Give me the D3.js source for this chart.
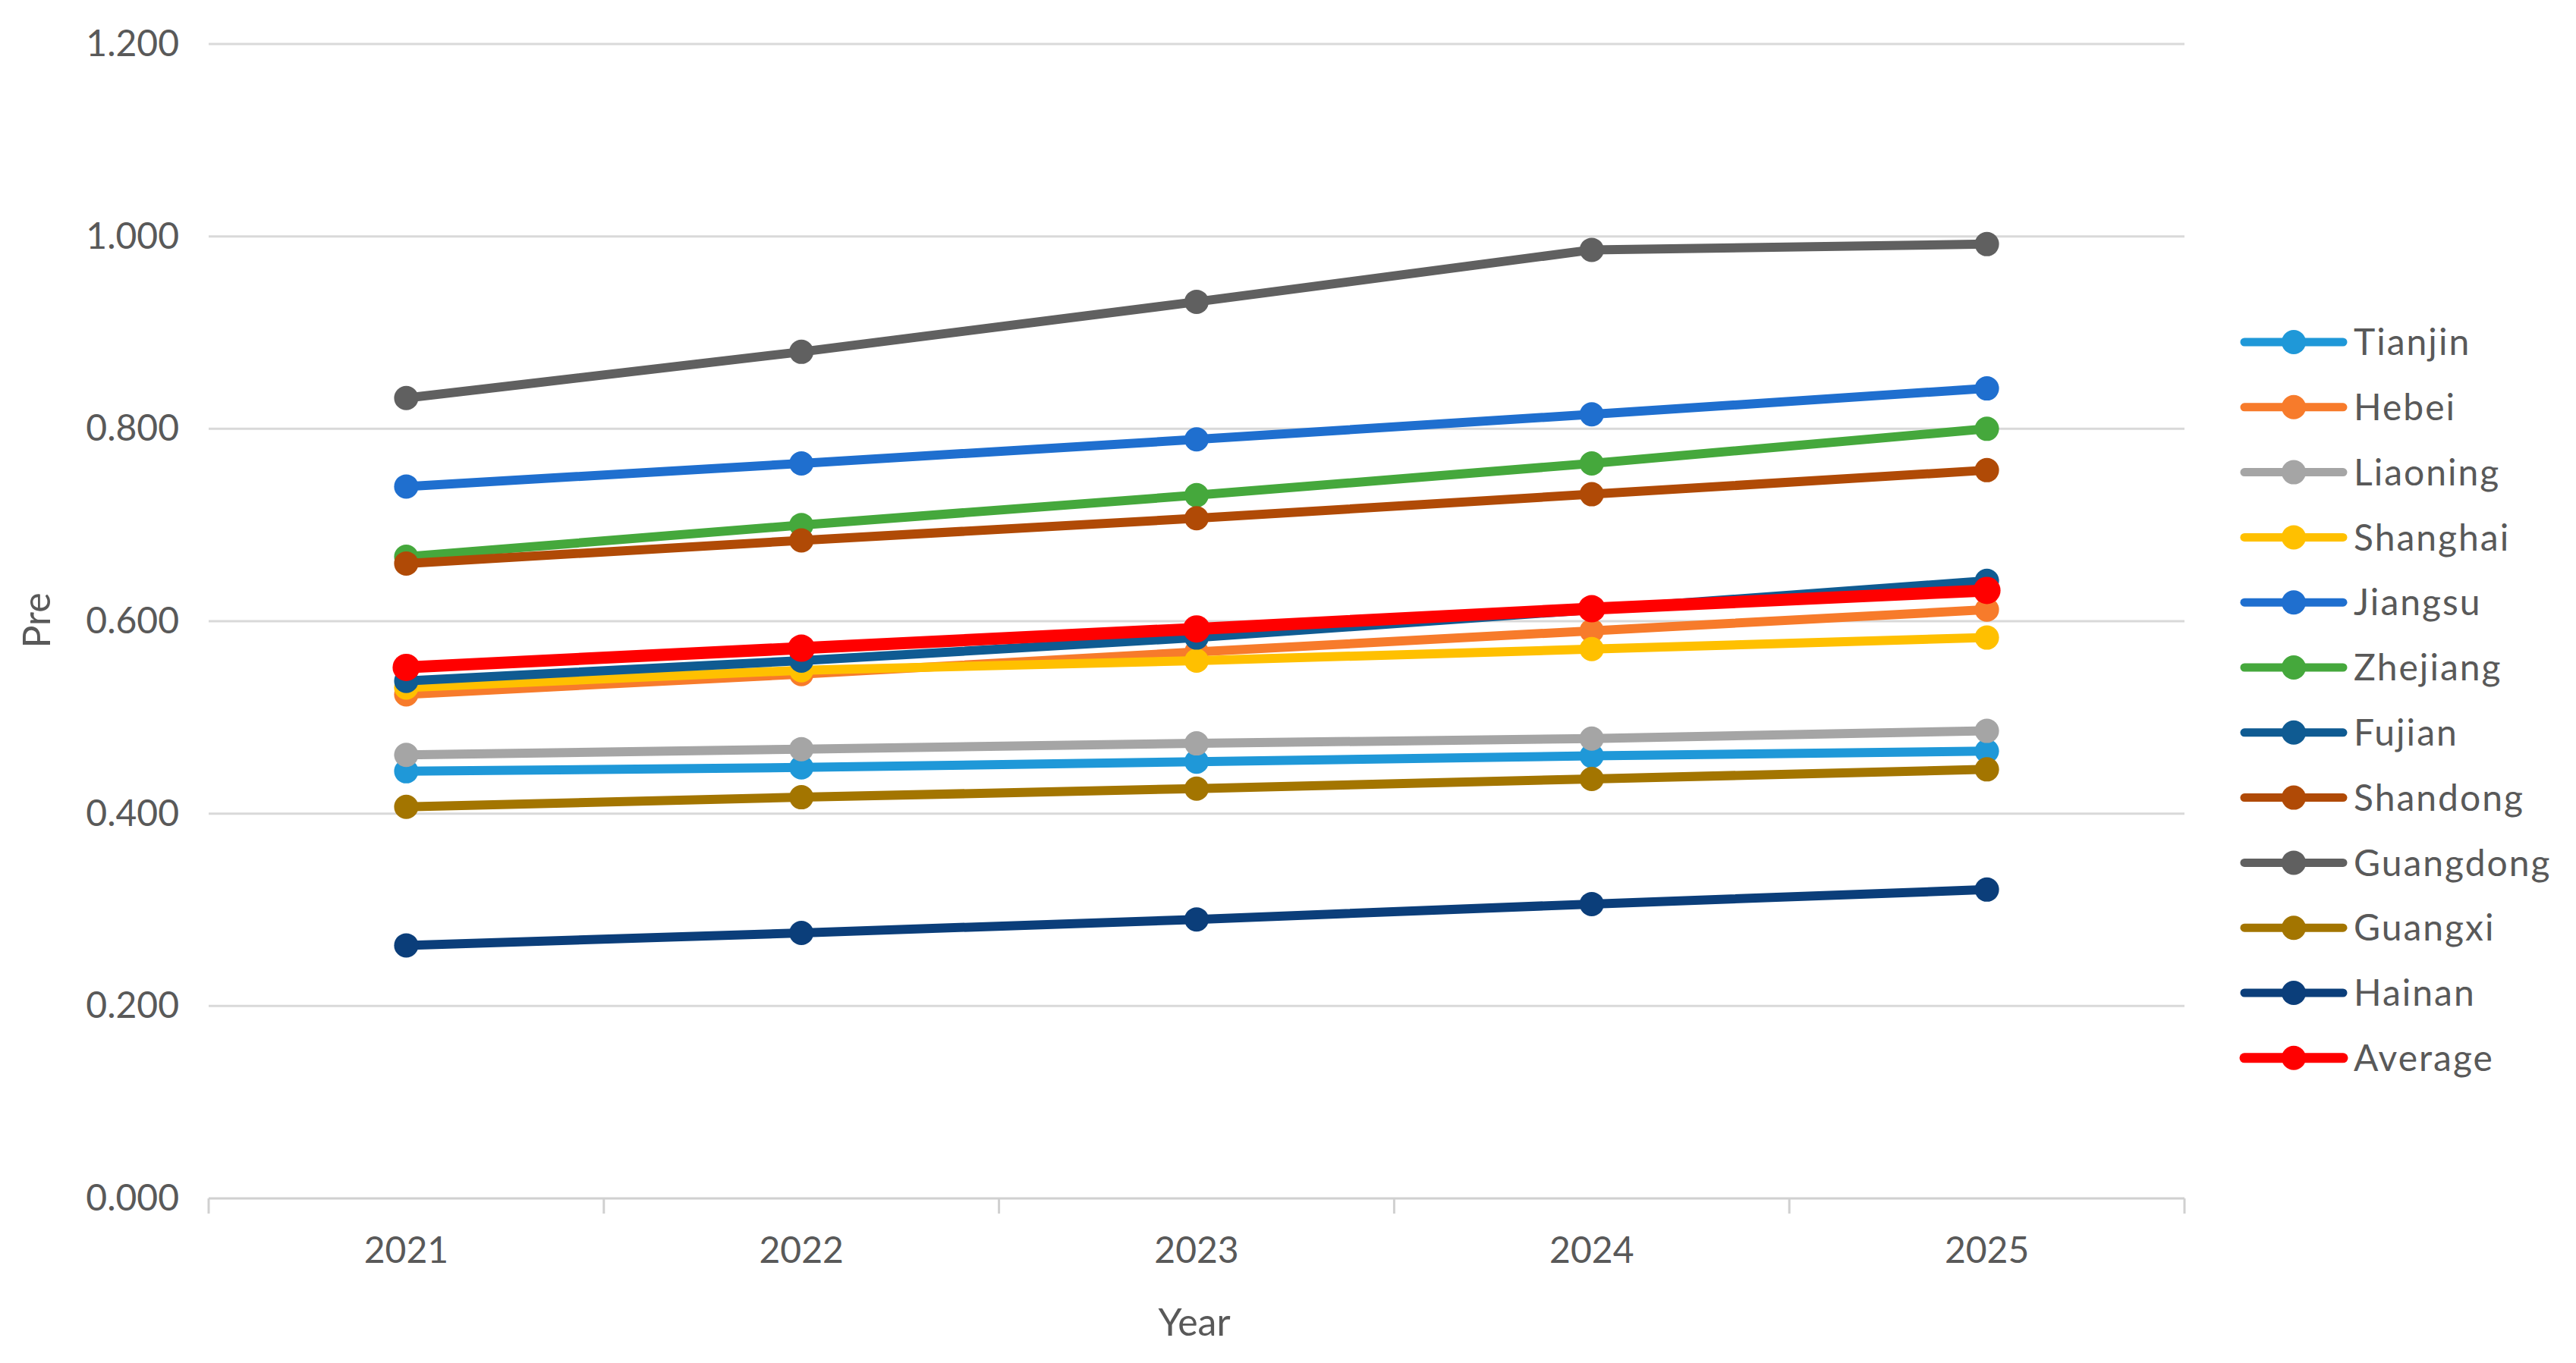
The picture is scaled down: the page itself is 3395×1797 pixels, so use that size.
<!DOCTYPE html>
<html>
<head>
<meta charset="utf-8">
<script src="https://cdn.jsdelivr.net/npm/d3@7"></script>
<style>
html, body { margin: 0; padding: 0; background: #ffffff; }
svg { display: block; }
</style>
</head>
<body>
<svg id="chart" width="3395" height="1797"></svg>
<script>
const years = ["2021", "2022", "2023", "2024", "2025"];
const yTicks = [0, 0.2, 0.4, 0.6, 0.8, 1.0, 1.2];
const seriesNames = ["Tianjin", "Hebei", "Liaoning", "Shanghai", "Jiangsu", "Zhejiang", "Fujian", "Shandong", "Guangdong", "Guangxi", "Hainan", "Average"];
const tianjin   = [0.444, 0.448, 0.454, 0.460, 0.465];
const hebei     = [0.524, 0.545, 0.568, 0.590, 0.612];
const liaoning  = [0.461, 0.467, 0.473, 0.478, 0.486];
const shanghai  = [0.531, 0.549, 0.559, 0.571, 0.583];
const jiangsu   = [0.740, 0.764, 0.789, 0.815, 0.842];
const zhejiang  = [0.667, 0.700, 0.731, 0.764, 0.800];
const fujian    = [0.538, 0.559, 0.583, 0.612, 0.642];
const shandong  = [0.660, 0.684, 0.707, 0.732, 0.757];
const guangdong = [0.832, 0.880, 0.932, 0.986, 0.992];
const guangxi   = [0.407, 0.417, 0.426, 0.436, 0.446];
const hainan    = [0.263, 0.276, 0.290, 0.306, 0.321];
const average   = [0.552, 0.572, 0.592, 0.613, 0.632];
const seriesValues = [tianjin, hebei, liaoning, shanghai, jiangsu, zhejiang, fujian, shandong, guangdong, guangxi, hainan, average];
const seriesColors = ["#1f98d8", "#f77b2b", "#a5a5a5", "#ffc000", "#1f6fcf", "#45a83c", "#0f5b92", "#b04a06", "#606060", "#a37500", "#0b3e7a", "#ff0000"];

const FONT = "Lato, 'Open Sans', sans-serif";
const TEXT = "#595959";
const svg = d3.select("#chart");

const x = d3.scaleBand().domain(years).range([275, 2879]);
const y = d3.scaleLinear().domain([0, 1.2]).range([1580, 58]);
const cx = d => x(d) + x.bandwidth() / 2;

// gridlines
svg.append("g").selectAll("line").data(yTicks.filter(t => t > 0)).join("line")
  .attr("x1", 275).attr("x2", 2879)
  .attr("y1", d => y(d)).attr("y2", d => y(d))
  .attr("stroke", "#d9d9d9").attr("stroke-width", 3);

// y axis labels
const yAxis = svg.append("g").attr("transform", "translate(275,0)")
  .call(d3.axisLeft(y).tickValues(yTicks).tickFormat(d3.format(".3f")).tickSize(0).tickPadding(39));
yAxis.select(".domain").remove();
yAxis.selectAll("text").attr("font-family", FONT).attr("font-size", 48).attr("fill", TEXT);

// x axis
const xAxis = svg.append("g").attr("transform", "translate(0,1580)")
  .call(d3.axisBottom(x).tickSize(0).tickPadding(0));
xAxis.select(".domain").attr("stroke", "#d0d0d0").attr("stroke-width", 3).attr("d", "M275,0H2879");
xAxis.selectAll("text").attr("font-family", FONT).attr("font-size", 48).attr("fill", TEXT)
  .attr("y", 68).attr("dy", "0.35em");
// tick marks at category boundaries
const bounds = years.map(d => x(d)).concat([x(years[years.length - 1]) + x.bandwidth()]);
xAxis.append("g").selectAll("line").data(bounds).join("line")
  .attr("x1", d => d).attr("x2", d => d).attr("y1", 0).attr("y2", 20)
  .attr("stroke", "#d0d0d0").attr("stroke-width", 3);

// axis titles
svg.append("text").attr("x", 1574).attr("y", 1743).attr("dy", "0.35em")
  .attr("text-anchor", "middle").attr("font-family", FONT).attr("font-size", 50).attr("fill", TEXT).text("Year");
svg.append("text").attr("transform", "translate(48,818) rotate(-90)").attr("dy", "0.35em")
  .attr("text-anchor", "middle").attr("font-family", FONT).attr("font-size", 50).attr("fill", TEXT).text("Pre");

// series
const line = d3.line().x((v, i) => cx(years[i])).y(v => y(v));
seriesNames.forEach((name, si) => {
  const isAvg = name === "Average";
  const g = svg.append("g");
  g.append("path").datum(seriesValues[si])
    .attr("d", line).attr("fill", "none")
    .attr("stroke", seriesColors[si]).attr("stroke-width", isAvg ? 16 : 12)
    .attr("stroke-linejoin", "round").attr("stroke-linecap", "round");
  g.selectAll("circle").data(seriesValues[si]).join("circle")
    .attr("cx", (v, i) => cx(years[i])).attr("cy", v => y(v))
    .attr("r", isAvg ? 18 : 16).attr("fill", seriesColors[si]);
});

// legend
const legend = svg.append("g");
seriesNames.forEach((name, si) => {
  const ly = 451 + si * 85.8;
  const isAvg = name === "Average";
  legend.append("line").attr("x1", 2958).attr("x2", 3088).attr("y1", ly).attr("y2", ly)
    .attr("stroke", seriesColors[si]).attr("stroke-width", isAvg ? 13 : 11).attr("stroke-linecap", "round");
  legend.append("circle").attr("cx", 3023).attr("cy", ly).attr("r", 16).attr("fill", seriesColors[si]);
  legend.append("text").attr("x", 3102).attr("y", ly).attr("dy", "0.36em")
    .attr("font-family", FONT).attr("font-size", 48).attr("letter-spacing", 2).attr("fill", TEXT).text(name);
});
</script>
</body>
</html>
